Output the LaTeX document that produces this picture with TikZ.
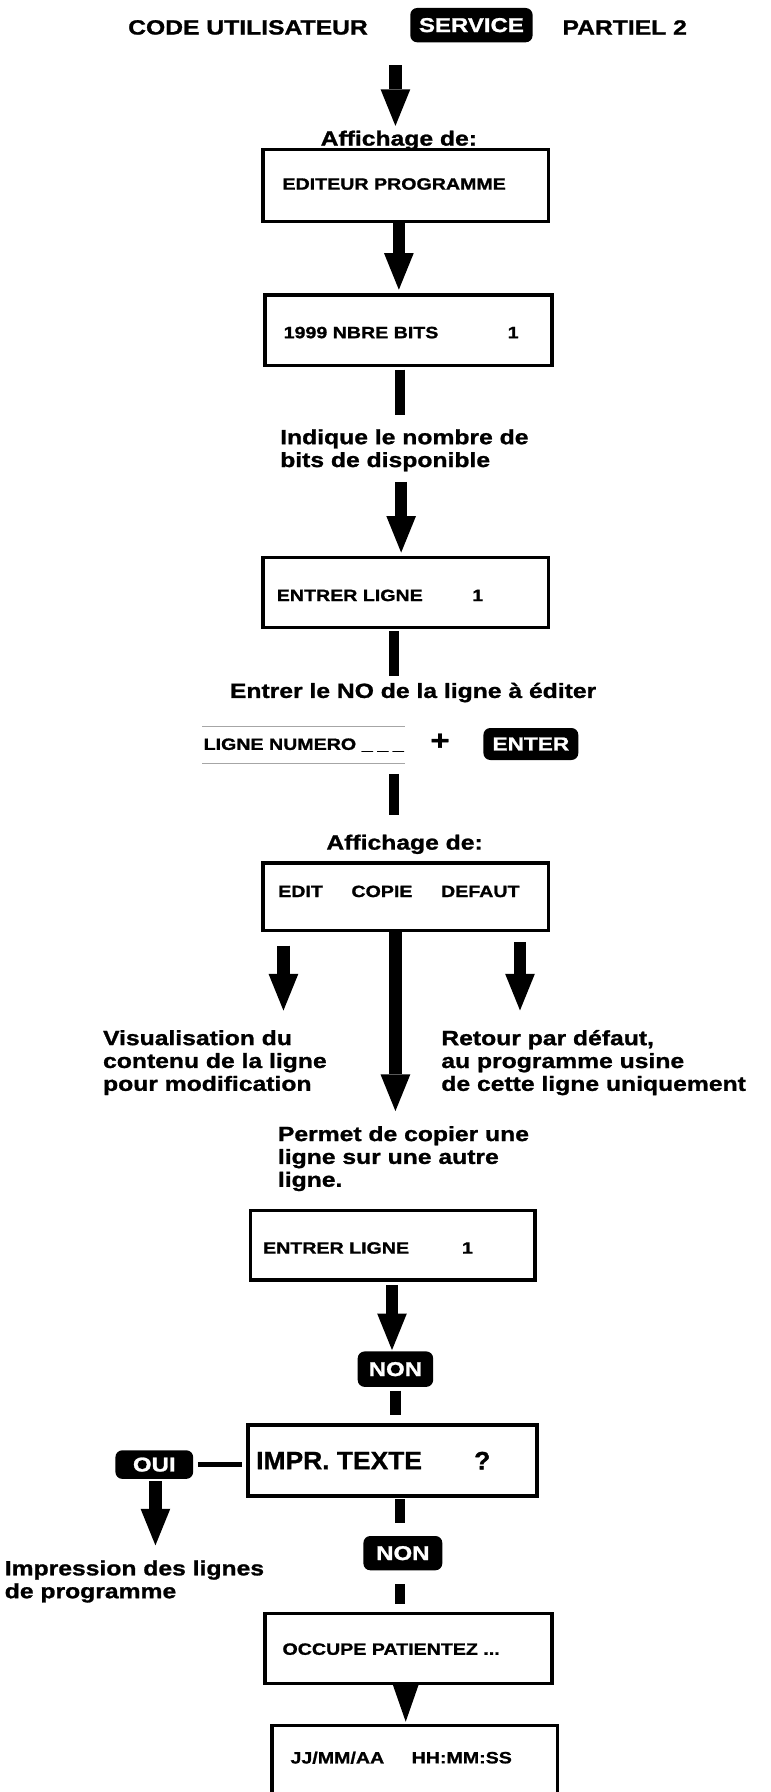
\documentclass[tikz,border=0pt]{standalone}
\usepackage{fontspec}
\setmainfont{Liberation Sans}[FakeStretch=1.2,FakeBold=1.2]
\newfontfamily\impf{Liberation Sans}[FakeStretch=1.05,FakeBold=1.2]
\usetikzlibrary{arrows.meta}
\tikzset{
  lbl/.style={inner sep=0pt, anchor=west, align=left, font=\bfseries\fontsize{18}{20}\selectfont},
  btxt/.style={inner sep=0pt, anchor=west, font=\bfseries\fontsize{14.3}{16}\selectfont},
  itxt/.style={inner sep=0pt, anchor=west, font=\impf\bfseries\fontsize{22}{24}\selectfont},
  box/.style={draw, line width=3pt, fill=white, inner sep=0pt},
  keycap/.style={fill=black, text=white, rounded corners=6pt, inner sep=0pt, font=\bfseries\fontsize{17.5}{18}\selectfont},
  bigarrow/.style={line width=11pt, -{Triangle[width=26pt,length=32pt,line width=0pt]}},
  headarrow/.style={line width=2pt, -{Triangle[width=23pt,length=33pt,line width=0pt]}},
  bar/.style={line width=9pt},
  faint/.style={draw=black!35, line width=0.6pt},
  joinline/.style={line width=4pt},
}
\begin{document}
\begin{tikzpicture}[x=1pt,y=-1pt]
\path[use as bounding box] (0,0) rectangle (674,1568);
\clip (0,0) rectangle (674,1568);
\fill[white] (0,0) rectangle (674,1568);

% column coordinates
\coordinate (a1s) at (346,57);
\coordinate (cA) at (349,0);
\coordinate (cB) at (350,0);
\coordinate (cC) at (351,0);
\coordinate (cD) at (345,0);
\coordinate (cL) at (248,0);
\coordinate (cM) at (346,0);
\coordinate (cR) at (455,0);
\coordinate (cE) at (343,0);
\coordinate (cF) at (346,0);
\coordinate (cG) at (136,0);
\coordinate (cH) at (350,0);
\coordinate (cI) at (355,0);

% title
\node[lbl] (ct) at (112,24) {CODE UTILISATEUR};
\node[keycap, minimum width=107pt, minimum height=30pt] (svc) at (412.5,22) {SERVICE};
\node[lbl] (pt) at (492,24) {PARTIEL 2};

\node[lbl, anchor=center] (aff1) at (349,122.8) {Affichage de:};
\node[box, minimum width=250pt, minimum height=63pt] (ed) at (355,162.5) {};
\node[btxt] (edt) at (247,161) {EDITEUR PROGRAMME};

\node[box, minimum width=251pt, minimum height=62pt] (nb) at (357.5,289) {};
\node[btxt] (nbt) at (248,291) {1999 NBRE BITS};
\node[btxt, anchor=center] (nb1) at (449,291) {1};

\node[lbl] (ind) at (245,394) {Indique le nombre de\\bits de disponible};

\node[box, minimum width=250pt, minimum height=61pt] (el1) at (355,518.5) {};
\node[btxt] (el1t) at (242,521) {ENTRER LIGNE};
\node[btxt, anchor=center] (el11) at (418,521) {1};

\node[lbl] (eno) at (201,606) {Entrer le NO de la ligne à éditer};

\node[btxt, minimum height=32pt, inner xsep=1pt] (lnum) at (177,652) {LIGNE NUMERO\kern5pt\_\kern4pt\_\kern4pt\_};
\node[inner sep=0pt, font=\bfseries\fontsize{24}{24}\selectfont] (plus) at (385,649) {+};
\node[keycap, minimum width=83pt, minimum height=28pt, font=\bfseries\fontsize{16.5}{16}\selectfont] (enter) at (464.5,651) {ENTER};

\node[lbl, anchor=center] (aff2) at (354,738.8) {Affichage de:};
\node[box, minimum width=250pt, minimum height=59pt] (ecd) at (355,784.5) {};
\node[btxt, anchor=center] (ecdt) at (349,780) {EDIT\hspace{25pt}COPIE\hspace{25pt}DEFAUT};

\node[lbl] (vis) at (90,929.8) {Visualisation du\\contenu de la ligne\\pour modification};
\node[lbl] (ret) at (386,929.8) {Retour par défaut,\\au programme usine\\de cette ligne uniquement};
\node[lbl] (perm) at (243,1013.8) {Permet de copier une\\ligne sur une autre\\ligne.};

\node[box, minimum width=249pt, minimum height=61pt] (el2) at (343.5,1089.5) {};
\node[btxt] (el2t) at (230,1092) {ENTRER LIGNE};
\node[btxt, anchor=center] (el21) at (409,1092) {1};

\node[keycap, minimum width=66pt, minimum height=31pt] (non1) at (346,1198) {NON};

\node[box, minimum width=253pt, minimum height=62pt] (impr) at (343.5,1278) {};
\node[itxt] (imprt) at (224,1278) {IMPR. TEXTE};
\node[itxt, anchor=center] (imprq) at (422,1278) {?};

\node[keycap, minimum width=68pt, minimum height=25pt] (oui) at (135,1281.5) {OUI};
\node[lbl] (impn) at (4,1383.8) {Impression des lignes\\de programme};

\node[keycap, minimum width=69pt, minimum height=30pt] (non2) at (352.5,1359) {NON};

\node[box, minimum width=251pt, minimum height=61pt] (occ) at (357.5,1442.5) {};
\node[btxt] (occt) at (247,1443) {OCCUPE PATIENTEZ ...};

\node[box, minimum width=250pt, minimum height=90pt] (jj) at (363,1555) {};
\node[btxt] (jjt) at (254,1538) {JJ/MM/AA};
\node[btxt] (jjh) at (360,1538) {HH:MM:SS};

% faint field lines
\draw[faint] (lnum.north west) -- (lnum.north east);
\draw[faint] (lnum.south west) -- (lnum.south east);

% connectors
\draw[bigarrow, shorten >=4pt] (a1s) -- (a1s |- aff1.north);
\draw[bigarrow, shorten >=3pt] (ed.south -| cA) -- (nb.north -| cA);
\draw[bar, shorten <=2pt, shorten >=12pt] (nb.south -| cB) -- (ind.north -| cB);
\draw[bigarrow, shorten <=9pt, shorten >=3pt] (ind.south -| cC) -- (el1.north -| cC);
\draw[bar, shorten <=2pt, shorten >=6pt] (el1.south -| cD) -- (eno.north -| cD);
\draw[bar, shorten <=9pt, shorten >=17pt] (lnum.south -| cD) -- (aff2.north -| cD);
\draw[bigarrow, shorten <=12pt, shorten >=17pt] (ecd.south -| cL) -- (vis.north -| cL);
\draw[bigarrow, shorten >=13pt] (ecd.south -| cM) -- (perm.north -| cM);
\draw[bigarrow, shorten <=9pt, shorten >=17pt] (ecd.south -| cR) -- (ret.north -| cR);
\draw[bigarrow, shorten <=3pt, shorten >=1pt] (el2.south -| cE) -- (non1.north -| cE);
\draw[bar, shorten <=3pt, shorten >=7pt] (non1.south -| cF) -- (impr.north -| cF);
\draw[joinline, shorten <=4pt, shorten >=4pt] (oui.east) -- (oui.east -| impr.west);
\draw[bigarrow, shorten <=2pt, shorten >=13pt] (oui.south -| cG) -- (impn.north -| cG);
\draw[bar, shorten <=1pt, shorten >=11pt] (impr.south -| cH) -- (non2.north -| cH);
\draw[bar, shorten <=12pt, shorten >=7pt] (non2.south -| cH) -- (occ.north -| cH);
\draw[headarrow, shorten >=2pt] (occ.south -| cI) -- (jj.north -| cI);
\end{tikzpicture}
\end{document}
